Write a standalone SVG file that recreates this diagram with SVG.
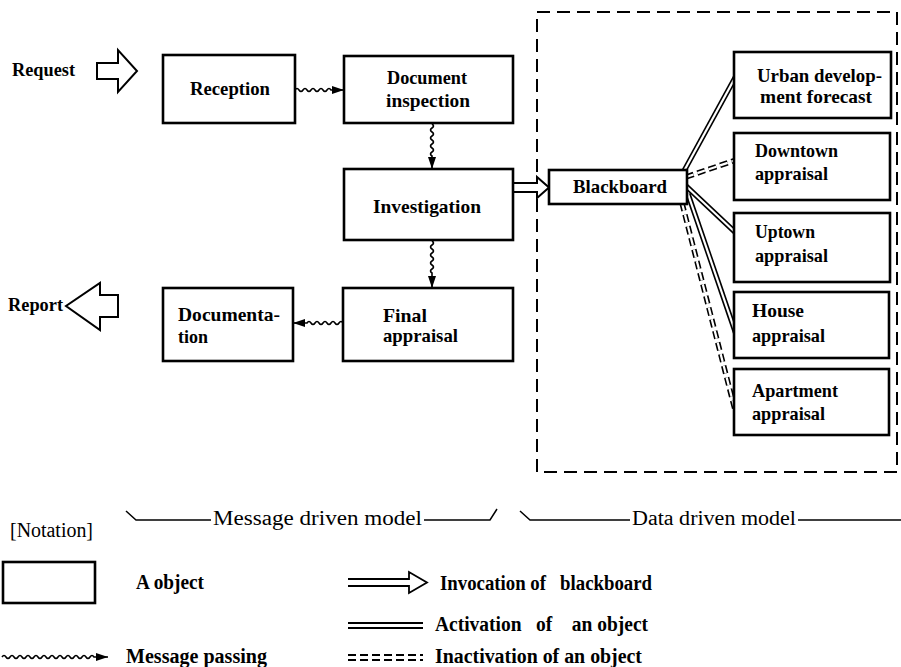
<svg xmlns="http://www.w3.org/2000/svg" width="901" height="667" viewBox="0 0 901 667">
<style>
.box{fill:#fff;stroke:#000;stroke-width:2.6}
.t{font-family:"Liberation Serif","DejaVu Serif",serif;font-weight:bold;font-size:19px;fill:#000}
.l{font-family:"Liberation Serif","DejaVu Serif",serif;font-size:20px;fill:#000}
.lb{font-family:"Liberation Serif","DejaVu Serif",serif;font-weight:bold;font-size:20px;fill:#000}
.wave{fill:none;stroke:#000;stroke-width:1.6;marker-end:url(#ah)}
.dblo{fill:none;stroke:#000;stroke-width:5.4}
.dbli{fill:none;stroke:#fff;stroke-width:2.2}
.dash{stroke-dasharray:8,4}
.hol{fill:#fff;stroke:#000;stroke-width:2;stroke-linejoin:miter}
.thin{fill:none;stroke:#000;stroke-width:1.5}
</style>
<defs>
<marker id="ah" markerUnits="userSpaceOnUse" markerWidth="12" markerHeight="8" viewBox="0 0 12 8" refX="12" refY="4" orient="auto">
<path d="M0,0 L12,4 L0,8 z" fill="#000"/>
</marker>
</defs>

<rect x="537" y="12" width="360" height="460" fill="none" stroke="#000" stroke-width="2" stroke-dasharray="13,7"/>

<g id="connectors">
<path class="wave" d="M295,90 q2,-3 4,0 t4,0 t4,0 t4,0 t4,0 t4,0 t4,0 t4,0 t4,0 L344,90"/>
<path class="wave" d="M432,124 q3,2 0,4 t0,4 t0,4 t0,4 t0,4 t0,4 t0,4 t0,4 L432,169"/>
<path class="wave" d="M432,241 q3,2 0,4 t0,4 t0,4 t0,4 t0,4 t0,4 t0,4 t0,4 L432,288"/>
<path class="wave" d="M343,323 q-2,-3 -4,0 t-4,0 t-4,0 t-4,0 t-4,0 t-4,0 t-4,0 t-4,0 t-4,0 L293,323"/>
<path class="hol" d="M513,183 L537,183 L537,177 L549,187.5 L537,198 L537,192 L513,192"/>
<g>
<line class="dblo" x1="684" y1="171" x2="736" y2="76"/>
<line class="dbli" x1="684" y1="171" x2="736" y2="76"/>
</g>
<g>
<line class="dblo dash" x1="686" y1="177" x2="736" y2="160"/>
<line class="dbli dash" x1="686" y1="177" x2="736" y2="160"/>
</g>
<g>
<line class="dblo" x1="686" y1="186" x2="736" y2="233"/>
<line class="dbli" x1="686" y1="186" x2="736" y2="233"/>
</g>
<g>
<line class="dblo" x1="688" y1="194" x2="736" y2="334"/>
<line class="dbli" x1="688" y1="194" x2="736" y2="334"/>
</g>
<g>
<line class="dblo dash" x1="682" y1="203" x2="735" y2="410"/>
<line class="dbli dash" x1="682" y1="203" x2="735" y2="410"/>
</g>
</g>

<g id="request">
<path class="hol" d="M97,63 L118,63 L118,50 L137,71 L118,92 L118,79 L97,79 Z"/>
<text class="t" x="12" y="76" textLength="63" lengthAdjust="spacingAndGlyphs">Request</text>
</g>
<g id="report">
<path class="hol" d="M118,295 L100,295 L100,283 L66,306 L100,330 L100,317 L118,317 Z"/>
<text class="t" x="8" y="311" textLength="55" lengthAdjust="spacingAndGlyphs">Report</text>
</g>

<g id="reception">
<rect class="box" x="163" y="55" width="132" height="68"/>
<text class="t" x="190" y="95" textLength="80" lengthAdjust="spacingAndGlyphs">Reception</text>
</g>
<g id="document-inspection">
<rect class="box" x="344" y="56" width="169" height="67"/>
<text class="t" x="387" y="84" textLength="80" lengthAdjust="spacingAndGlyphs">Document</text>
<text class="t" x="386" y="107" textLength="84" lengthAdjust="spacingAndGlyphs">inspection</text>
</g>
<g id="investigation">
<rect class="box" x="344" y="169" width="169" height="71"/>
<text class="t" x="373" y="213" textLength="108" lengthAdjust="spacingAndGlyphs">Investigation</text>
</g>
<g id="final-appraisal">
<rect class="box" x="343" y="288" width="170" height="73"/>
<text class="t" x="383" y="322" textLength="44" lengthAdjust="spacingAndGlyphs">Final</text>
<text class="t" x="383" y="342" textLength="75" lengthAdjust="spacingAndGlyphs">appraisal</text>
</g>
<g id="documentation">
<rect class="box" x="163" y="288" width="130" height="73"/>
<text class="t" x="178" y="321" textLength="102" lengthAdjust="spacingAndGlyphs">Documenta-</text>
<text class="t" x="178" y="343" textLength="30" lengthAdjust="spacingAndGlyphs">tion</text>
</g>
<g id="blackboard">
<rect class="box" x="549" y="170" width="138" height="34"/>
<text class="t" x="573" y="193" textLength="94" lengthAdjust="spacingAndGlyphs">Blackboard</text>
</g>
<g id="urban">
<rect class="box" x="734" y="52" width="157" height="66"/>
<text class="t" x="757" y="82" textLength="125" lengthAdjust="spacingAndGlyphs">Urban develop-</text>
<text class="t" x="760" y="103" textLength="112" lengthAdjust="spacingAndGlyphs">ment forecast</text>
</g>
<g id="downtown">
<rect class="box" x="734" y="133" width="156" height="67"/>
<text class="t" x="755" y="157" textLength="83" lengthAdjust="spacingAndGlyphs">Downtown</text>
<text class="t" x="755" y="180" textLength="73" lengthAdjust="spacingAndGlyphs">appraisal</text>
</g>
<g id="uptown">
<rect class="box" x="734" y="213" width="156" height="69"/>
<text class="t" x="755" y="238" textLength="60" lengthAdjust="spacingAndGlyphs">Uptown</text>
<text class="t" x="755" y="262" textLength="73" lengthAdjust="spacingAndGlyphs">appraisal</text>
</g>
<g id="house">
<rect class="box" x="734" y="292" width="155" height="66"/>
<text class="t" x="752" y="317" textLength="52" lengthAdjust="spacingAndGlyphs">House</text>
<text class="t" x="752" y="342" textLength="73" lengthAdjust="spacingAndGlyphs">appraisal</text>
</g>
<g id="apartment">
<rect class="box" x="734" y="369" width="155" height="66"/>
<text class="t" x="752" y="397" textLength="86" lengthAdjust="spacingAndGlyphs">Apartment</text>
<text class="t" x="752" y="420" textLength="73" lengthAdjust="spacingAndGlyphs">appraisal</text>
</g>

<g id="brackets">
<polyline class="thin" points="126,511 136,520 211,520"/>
<text class="l" x="213" y="525" textLength="209" lengthAdjust="spacingAndGlyphs">Message driven model</text>
<polyline class="thin" points="424,520 490,520 497,509"/>
<polyline class="thin" points="520,511 530,520 630,520"/>
<text class="l" x="632" y="525" textLength="164" lengthAdjust="spacingAndGlyphs">Data driven model</text>
<line class="thin" x1="798" y1="520" x2="901" y2="520"/>
</g>

<g id="legend">
<text class="l" x="10" y="537" textLength="83" lengthAdjust="spacingAndGlyphs">[Notation]</text>
<rect class="box" x="3" y="562" width="92" height="41"/>
<text class="lb" x="136" y="589" textLength="68" lengthAdjust="spacingAndGlyphs">A object</text>
<path class="hol" d="M348,579 L409,579 L409,572 L427,582.5 L409,593 L409,586 L348,586" style="stroke-width:1.8"/>
<text class="lb" x="440" y="590" textLength="212" lengthAdjust="spacingAndGlyphs" xml:space="preserve">Invocation of   blackboard</text>
<line x1="348" y1="623" x2="423" y2="623" stroke="#000" stroke-width="1.8"/>
<line x1="348" y1="628" x2="423" y2="628" stroke="#000" stroke-width="1.8"/>
<text class="lb" x="435" y="631" textLength="213" lengthAdjust="spacingAndGlyphs" xml:space="preserve">Activation   of    an object</text>
<line x1="348" y1="655" x2="423" y2="655" stroke="#000" stroke-width="1.8" stroke-dasharray="8,4"/>
<line x1="348" y1="660" x2="423" y2="660" stroke="#000" stroke-width="1.8" stroke-dasharray="8,4"/>
<text class="lb" x="435" y="663" textLength="207" lengthAdjust="spacingAndGlyphs">Inactivation of an object</text>
<path class="wave" d="M2,657 q2,-3 4,0 t4,0 t4,0 t4,0 t4,0 t4,0 t4,0 t4,0 t4,0 t4,0 t4,0 t4,0 t4,0 t4,0 t4,0 t4,0 t4,0 t4,0 t4,0 t4,0 t4,0 t4,0 t4,0 L108,657"/>
<text class="lb" x="126" y="663" textLength="141" lengthAdjust="spacingAndGlyphs">Message passing</text>
</g>
</svg>
